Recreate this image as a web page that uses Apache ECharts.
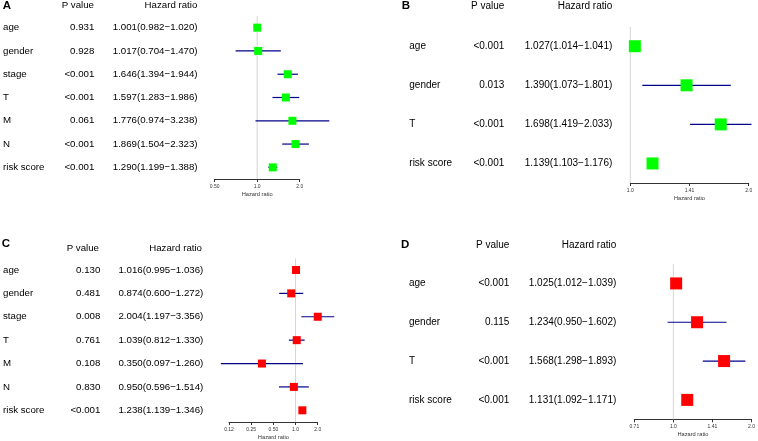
<!DOCTYPE html>
<html><head><meta charset="utf-8">
<script src="https://cdn.jsdelivr.net/npm/echarts@6/dist/echarts.min.js"></script>
<style>html,body{margin:0;padding:0;background:#fff}#c{width:758px;height:441px}</style>
</head><body><div id="c"></div>
<script>
// ---- data ----
const namesA = ['age','gender','stage','T','M','N','risk score'];
const pA  = ['0.931','0.928','<0.001','<0.001','0.061','<0.001','<0.001'];
const hrA = [1.001,1.017,1.646,1.597,1.776,1.869,1.290];
const loA = [0.982,0.704,1.394,1.283,0.974,1.504,1.199];
const hiA = [1.020,1.470,1.944,1.986,3.238,2.323,1.388];
const ticksA = ['0.50','1.0','2.0'];

const namesB = ['age','gender','T','risk score'];
const pB  = ['<0.001','0.013','<0.001','<0.001'];
const hrB = [1.027,1.390,1.698,1.139];
const loB = [1.014,1.073,1.419,1.103];
const hiB = [1.041,1.801,2.033,1.176];
const ticksB = ['1.0','1.41','2.0'];

const namesC = ['age','gender','stage','T','M','N','risk score'];
const pC  = ['0.130','0.481','0.008','0.761','0.108','0.830','<0.001'];
const hrC = [1.016,0.874,2.004,1.039,0.350,0.950,1.238];
const loC = [0.995,0.600,1.197,0.812,0.097,0.596,1.139];
const hiC = [1.036,1.272,3.356,1.330,1.260,1.514,1.346];
const ticksC = ['0.12','0.25','0.50','1.0','2.0'];

const namesD = ['age','gender','T','risk score'];
const pD  = ['<0.001','0.115','<0.001','<0.001'];
const hrD = [1.025,1.234,1.568,1.131];
const loD = [1.012,0.950,1.298,1.092];
const hiD = [1.039,1.602,1.893,1.171];
const ticksD = ['0.71','1.0','1.41','2.0'];

// ---- layout ----
const FONT = '"Liberation Sans", Arial, sans-serif';
const TXT = '#000';
const panels = [
  {letter:'A', names:namesA, p:pA, hr:hrA, lo:loA, hi:hiA, ticks:ticksA, color:'#00FF00', sym:8, font:9.7,
   grid:{left:214.3, width:85.4, top:16, height:163}, xMin:-1, xMax:1, step:1,
   nameX:2.7, pX:94, hrX:197.3, headY:5.3, letterX:2.7, letterY:6.3},
  {letter:'B', names:namesB, p:pB, hr:hrB, lo:loB, hi:hiB, ticks:ticksB, color:'#00FF00', sym:12, font:10,
   grid:{left:630.3, width:118.4, top:26.7, height:156.3}, xMin:0, xMax:1, step:0.5,
   nameX:409.3, pX:504.3, hrX:612.3, headY:6.7, letterX:401.7, letterY:6.3},
  {letter:'C', names:namesC, p:pC, hr:hrC, lo:loC, hi:hiC, ticks:ticksC, color:'#FF0000', sym:8, font:9.7,
   grid:{left:227.7, width:90, top:258.3, height:164}, xMin:-3, xMax:1, step:1,
   nameX:1.7, pX:99, hrX:202, headY:248, letterX:1.7, letterY:244},
  {letter:'D', names:namesD, p:pD, hr:hrD, lo:loD, hi:hiD, ticks:ticksD, color:'#FF0000', sym:12, font:10,
   grid:{left:634.3, width:118.4, top:264, height:155.3}, xMin:-0.5, xMax:1, step:0.5,
   nameX:409, pX:509.3, hrX:616.3, headY:245.7, letterX:401, letterY:245}
];

const grids = [], xAxes = [], yAxes = [], series = [], graphics = [];
const fmt3 = v => v.toFixed(3);

panels.forEach((P, i) => {
  grids.push(Object.assign({containLabel:false}, P.grid));
  xAxes.push({
    gridIndex:i, type:'value', min:P.xMin, max:P.xMax, interval:P.step,
    axisLine:{show:true, onZero:false, lineStyle:{color:'#333', width:1}},
    axisTick:{show:true, length:3, lineStyle:{color:'#333', width:1}},
    splitLine:{show:false},
    axisLabel:{fontSize:5, color:'#333', margin:5, fontFamily:FONT,
      formatter: v => { const k = Math.round((v - P.xMin)/P.step); return P.ticks[k] || ''; }},
    name:'Hazard ratio', nameLocation:'middle', nameGap:12,
    nameTextStyle:{fontSize:5.7, color:'#333', fontFamily:FONT}
  });
  const base = {gridIndex:i, type:'category', inverse:true, data:P.names, boundaryGap:true,
    axisLine:{show:false}, axisTick:{show:false}, splitLine:{show:false}, position:'left'};
  yAxes.push(Object.assign({}, base, {axisLabel:{interval:0, align:'left', margin:P.grid.left - P.nameX,
    fontSize:P.font, color:TXT, fontFamily:FONT}}));
  yAxes.push(Object.assign({}, base, {axisLabel:{interval:0, align:'right', margin:P.grid.left - P.pX,
    fontSize:P.font, color:TXT, fontFamily:FONT, formatter:(v, k) => P.p[k]}}));
  yAxes.push(Object.assign({}, base, {axisLabel:{interval:0, align:'right', margin:P.grid.left - P.hrX,
    fontSize:P.font, color:TXT, fontFamily:FONT,
    formatter:(v, k) => fmt3(P.hr[k]) + '(' + fmt3(P.lo[k]) + '\u2212' + fmt3(P.hi[k]) + ')'}}));

  // reference line at HR = 1 (log2 = 0), spanning the plot area
  series.push({
    type:'custom', xAxisIndex:i, yAxisIndex:3*i, clip:false, z:1, silent:true,
    data:[[0, 0]], encode:{x:0, y:1},
    renderItem:(params, api) => {
      const cs = params.coordSys;
      const x = api.coord([api.value(0), 0])[0];
      return {type:'line', shape:{x1:x, y1:cs.y, x2:x, y2:cs.y + cs.height},
        style:{stroke:'#d6d6d6', lineWidth:1}};
    }
  });
  // confidence intervals
  series.push({
    type:'custom', xAxisIndex:i, yAxisIndex:3*i, clip:false, z:2, silent:true,
    data:P.lo.map((l, k) => [Math.log2(l), k, Math.log2(P.hi[k])]),
    encode:{x:0, y:1},
    renderItem:(params, api) => {
      const a = api.coord([api.value(0), api.value(1)]);
      const b = api.coord([api.value(2), api.value(1)]);
      return {type:'line', shape:{x1:a[0], y1:a[1], x2:b[0], y2:b[1]},
        style:{stroke:'#00008B', lineWidth:1.2}};
    }
  });
  // hazard ratio boxes
  series.push({
    type:'scatter', xAxisIndex:i, yAxisIndex:3*i, clip:false, z:3, silent:true,
    symbol:'rect', symbolSize:P.sym, itemStyle:{color:P.color, opacity:1},
    data:P.hr.map((h, k) => [Math.log2(h), k])
  });

  graphics.push({type:'text', x:P.letterX, y:P.letterY,
    style:{text:P.letter, font:'bold 11.5px ' + FONT, fill:'#000', align:'left', verticalAlign:'middle'}});
  graphics.push({type:'text', x:P.pX, y:P.headY,
    style:{text:'P value', font:P.font + 'px ' + FONT, fill:TXT, align:'right', verticalAlign:'middle'}});
  graphics.push({type:'text', x:P.hrX, y:P.headY,
    style:{text:'Hazard ratio', font:P.font + 'px ' + FONT, fill:TXT, align:'right', verticalAlign:'middle'}});
});

const chart = echarts.init(document.getElementById('c'), null, {renderer:'canvas'});
chart.setOption({
  animation:false, backgroundColor:'#fff',
  grid:grids, xAxis:xAxes, yAxis:yAxes, series:series, graphic:graphics
});
</script></body></html>
